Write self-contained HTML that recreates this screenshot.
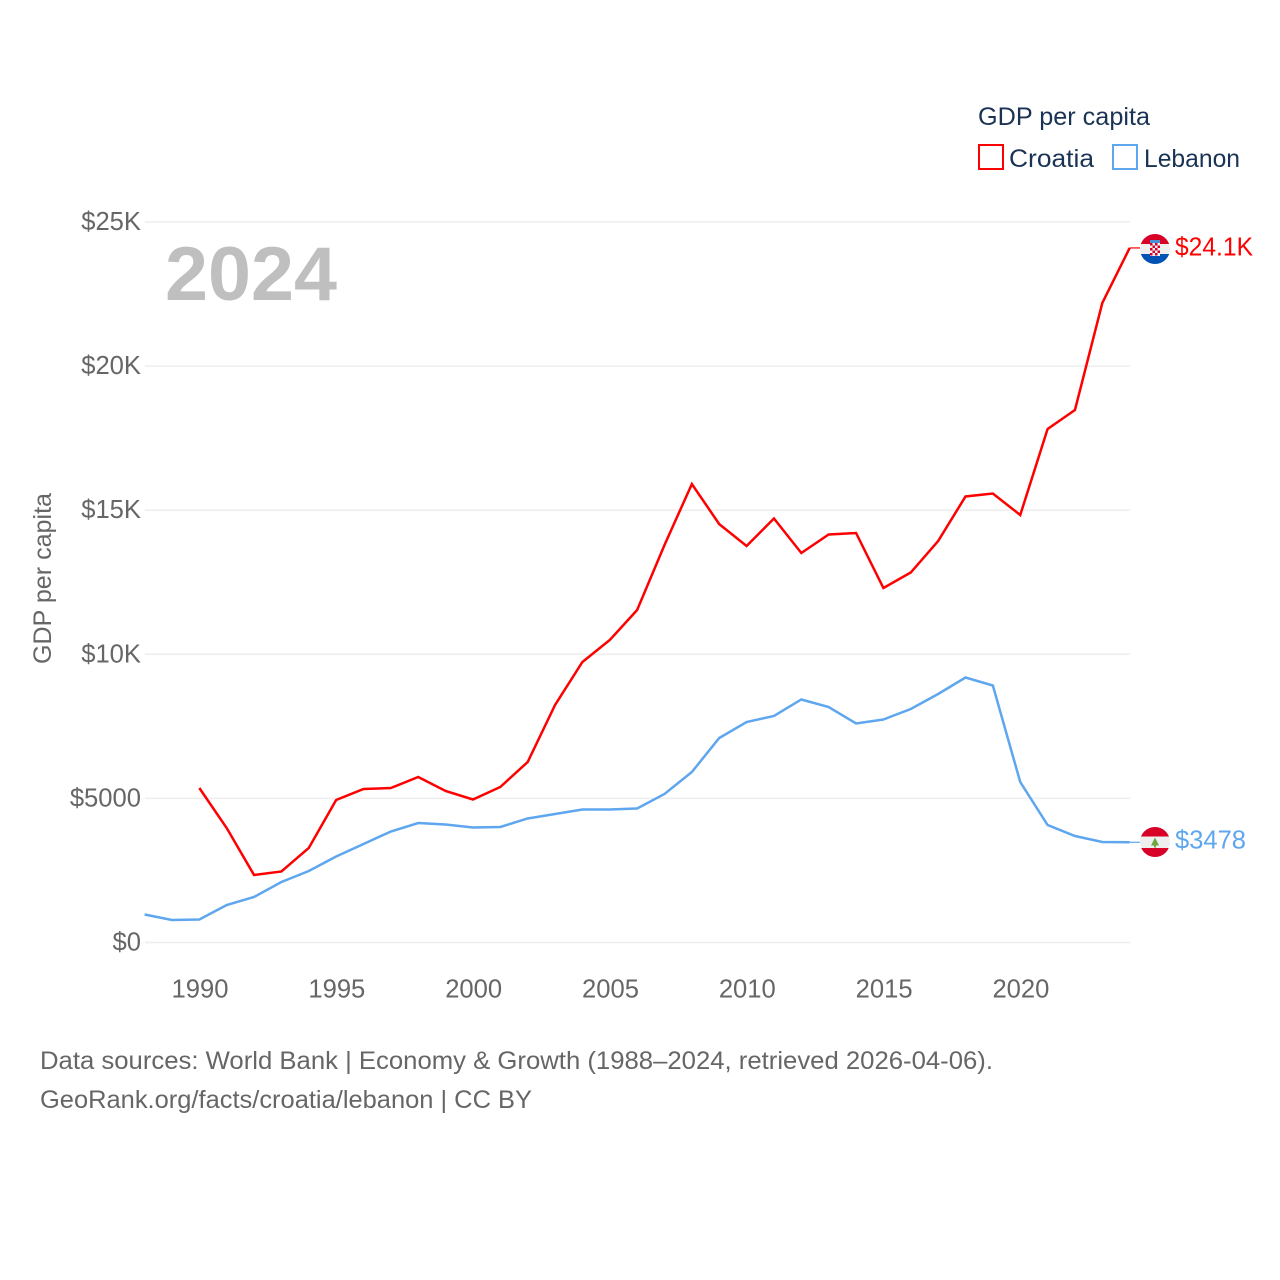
<!DOCTYPE html>
<html lang="en">
<head>
<meta charset="utf-8">
<title>GDP per capita: Croatia vs Lebanon</title>
<style>
html,body{margin:0;padding:0;background:#fff;}
svg{display:block;}
text{font-family:"Liberation Sans",sans-serif;}
</style>
</head>
<body>
<svg id="chart" xmlns="http://www.w3.org/2000/svg" width="1280" height="1280" viewBox="0 0 1280 1280">
  <rect x="0" y="0" width="1280" height="1280" fill="#fff"/>
  <g id="grid"></g>
  <g id="yticks"></g>
  <g id="xticks"></g>
  <text x="165" y="300" font-size="76" font-weight="700" fill="#bfbfbf" textLength="172" lengthAdjust="spacingAndGlyphs">2024</text>
  <text transform="translate(51,664) rotate(-90)" font-size="25" fill="#666" textLength="171" lengthAdjust="spacingAndGlyphs">GDP per capita</text>
  <g id="series"></g>

  <g>
    <text x="978" y="125" font-size="25" fill="#1a3354" textLength="172" lengthAdjust="spacingAndGlyphs">GDP per capita</text>
    <rect x="979" y="145" width="24" height="24" fill="none" stroke="#ff0000" stroke-width="2"/>
    <text x="1009" y="167" font-size="25" fill="#1a3354" textLength="85" lengthAdjust="spacingAndGlyphs">Croatia</text>
    <rect x="1113" y="145" width="24" height="24" fill="none" stroke="#5ea6ee" stroke-width="2"/>
    <text x="1144" y="167" font-size="25" fill="#1a3354" textLength="96" lengthAdjust="spacingAndGlyphs">Lebanon</text>
  </g>

  <defs>
    <clipPath id="flag-clip-hr"><circle cx="1155" cy="249" r="15"/></clipPath>
    <clipPath id="flag-clip-lb"><circle cx="1155" cy="842" r="15"/></clipPath>
  </defs>
  <g clip-path="url(#flag-clip-hr)">
    <rect x="1140" y="234" width="30" height="10" fill="#d80027"/>
    <rect x="1140" y="244" width="30" height="10" fill="#eeeeee"/>
    <rect x="1140" y="254" width="30" height="10" fill="#0052b4"/>
    <rect x="1150" y="240" width="10" height="3" fill="#4a90d9"/>
    <rect x="1150" y="243" width="10" height="13" fill="#f4f4f4"/>
    <rect x="1150" y="243" width="2.5" height="2.5" fill="#d80027"/><rect x="1155" y="243" width="2.5" height="2.5" fill="#d80027"/>
    <rect x="1152.5" y="245.5" width="2.5" height="2.5" fill="#d80027"/><rect x="1157.5" y="245.5" width="2.5" height="2.5" fill="#d80027"/>
    <rect x="1150" y="248" width="2.5" height="2.5" fill="#d80027"/><rect x="1155" y="248" width="2.5" height="2.5" fill="#d80027"/>
    <rect x="1152.5" y="250.5" width="2.5" height="2.5" fill="#d80027"/><rect x="1157.5" y="250.5" width="2.5" height="2.5" fill="#d80027"/>
    <rect x="1150" y="253" width="2.5" height="2.5" fill="#d80027"/><rect x="1155" y="253" width="2.5" height="2.5" fill="#d80027"/>
  </g>
  <g clip-path="url(#flag-clip-lb)">
    <rect x="1140" y="827" width="30" height="9.5" fill="#d80027"/>
    <rect x="1140" y="836.5" width="30" height="11.5" fill="#eeeeee"/>
    <rect x="1140" y="848" width="30" height="9" fill="#d80027"/>
    <polygon points="1155,837.5 1159,845.5 1151,845.5" fill="#6da544"/>
    <rect x="1154" y="845" width="2" height="2.5" fill="#6da544"/>
  </g>

  <text x="1175" y="255.5" font-size="25.5" fill="#ff0000" textLength="78" lengthAdjust="spacingAndGlyphs">$24.1K</text>
  <text x="1175" y="848.5" font-size="25.5" fill="#5ea6ee" textLength="71" lengthAdjust="spacingAndGlyphs">$3478</text>

  <text x="40" y="1069" font-size="25" fill="#666" textLength="953" lengthAdjust="spacingAndGlyphs">Data sources: World Bank | Economy &amp; Growth (1988–2024, retrieved 2026-04-06).</text>
  <text x="40" y="1108" font-size="25" fill="#666" textLength="492" lengthAdjust="spacingAndGlyphs">GeoRank.org/facts/croatia/lebanon | CC BY</text>
</svg>
<script>
const years = [1988,1989,1990,1991,1992,1993,1994,1995,1996,1997,1998,1999,2000,2001,2002,2003,2004,2005,2006,2007,2008,2009,2010,2011,2012,2013,2014,2015,2016,2017,2018,2019,2020,2021,2022,2023,2024];
const croatia = [null,null,5361,3973,2342,2464,3279,4945,5326,5361,5743,5257,4962,5396,6263,8241,9733,10496,11537,13793,15909,14518,13758,14712,13515,14157,14209,12300,12838,13931,15476,15579,14833,17818,18477,22190,24100];
const lebanon = [972,781,798,1301,1579,2099,2481,2984,3418,3851,4146,4094,3990,4008,4303,4459,4615,4615,4650,5153,5916,7096,7651,7859,8432,8171,7599,7738,8102,8623,9195,8917,5569,4077,3695,3487,3478];
const yTickValues = [0,5000,10000,15000,20000,25000];
const yTickLabels = ["$0","$5000","$10K","$15K","$20K","$25K"];
const xTickValues = [1990,1995,2000,2005,2010,2015,2020];
const xTickLabels = ["1990","1995","2000","2005","2010","2015","2020"];

const NS = "http://www.w3.org/2000/svg";
const xScale = function (year) { return 144.6 + (year - 1988) * (1020.9 - 200) / 30; };
const yScale = function (value) { return 942.5 - value * (942.5 - 222) / 25000; };

function make(tag, attrs, parent, text) {
  const el = document.createElementNS(NS, tag);
  Object.keys(attrs).forEach(function (k) { el.setAttribute(k, attrs[k]); });
  if (text !== undefined) el.textContent = text;
  parent.appendChild(el);
  return el;
}

const gridGroup = document.getElementById("grid");
const yGroup = document.getElementById("yticks");
const xGroup = document.getElementById("xticks");
const seriesGroup = document.getElementById("series");

yTickValues.forEach(function (v, i) {
  const line = make("line", {x1: 145, x2: 1130, y1: yScale(v), y2: yScale(v), stroke: "#eeeeee", "stroke-width": 1.5}, gridGroup);
  
  
  const label = make("text", {x: 141, y: yScale(v) + 8, "text-anchor": "end", "font-size": 25.6, fill: "#666"}, yGroup, yTickLabels[i]);
  
  
});

xTickValues.forEach(function (v, i) {
  const label = make("text", {x: xScale(v) + 0.7, y: 997.5, "text-anchor": "middle", "font-size": 25.6, fill: "#666"}, xGroup, xTickLabels[i]);
  
  
});

function pathFor(values) {
  let d = "";
  values.forEach(function (v, i) {
    if (v === null) return;
    d += (d === "" ? "M" : "L") + xScale(years[i]).toFixed(2) + " " + yScale(v).toFixed(2);
  });
  return d;
}

const croatiaLine = make("path", {d: pathFor(croatia), fill: "none", stroke: "#ff0000", "stroke-width": 2.5, "stroke-linejoin": "miter"}, seriesGroup);


const lebanonLine = make("path", {d: pathFor(lebanon), fill: "none", stroke: "#5ea6ee", "stroke-width": 2.5, "stroke-linejoin": "miter"}, seriesGroup);



const lastIndex = years.length - 1;
const croatiaLeader = make("line", {x1: xScale(years[lastIndex]), x2: 1140, y1: yScale(croatia[lastIndex]), y2: yScale(croatia[lastIndex]), stroke: "#ff0000", "stroke-width": 1.2}, seriesGroup);


const lebanonLeader = make("line", {x1: xScale(years[lastIndex]), x2: 1140, y1: yScale(lebanon[lastIndex]), y2: yScale(lebanon[lastIndex]), stroke: "#5ea6ee", "stroke-width": 1.2}, seriesGroup);


</script>
</body>
</html>
